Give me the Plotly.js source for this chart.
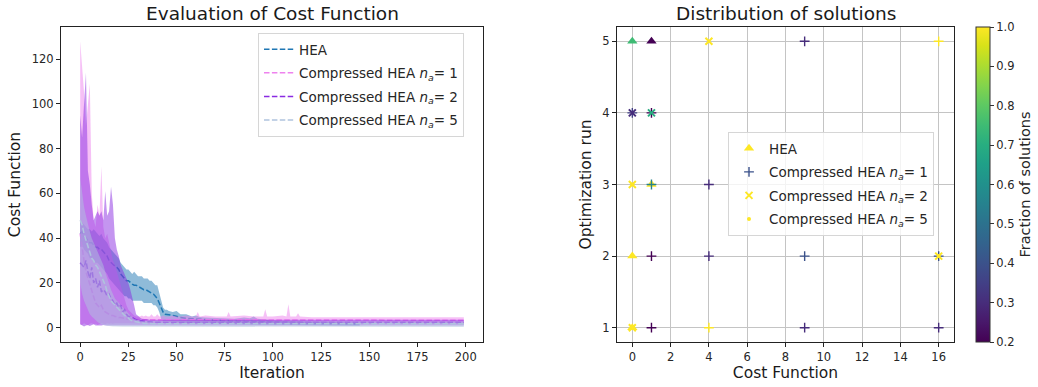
<!DOCTYPE html>
<html>
<head>
<meta charset="utf-8">
<script src="https://cdn.plot.ly/plotly-3.0.1.min.js"></script>
<style>html,body{margin:0;padding:0;background:#fff;}#chart{width:1038px;height:387px;}</style>
</head>
<body>
<div id="chart"></div>
<script>
// ---------- Left panel data (Evaluation of Cost Function) ----------
const seriesNames = ['HEA', 'Compressed HEA <i>n<sub>a</sub></i>= 1', 'Compressed HEA <i>n<sub>a</sub></i>= 2', 'Compressed HEA <i>n<sub>a</sub></i>= 5'];

const iterHEA = [0,1,2,3,4,5,6,7,8,9,10,11,12,13,14,15,16,17,18,19,20,21,22,23,24,25,26,27,28,29,30,31,32,33,34,35,36,37,38,39,40,41,42,43,44,45,
  46,48,50,52,55,58,60,62,65,70,75,80,85,88,90,92,95,100,105,110,115,120,125,130,135,140,145];
const meanHEA = [42,43,41,40,39,38,38,37,36,36,35,35,34,33,32,30,29,28,27.5,27,26,24,23,22,21,21,20,19.5,19,19,18.5,18,17.5,17,17,16.5,16,15.5,15,14,13,11,9,7,6,6,
  5.8,5.5,5,4.6,4.2,4,3.8,3.6,3.4,3.2,3,2.9,2.8,2.7,2.7,2.6,2.5,2.3,2.2,2.1,2,1.9,1.9,1.8,1.8,1.7,1.7];
const hiHEA = [48,47,46,45,44,44,43,44,43,42,41,42,40,39,38,36,35,34,33,32,31,29,28,27,26,26,25,24,25,24,23,23,23,22,22,22,21,21,20,19,19,16,12,9,8,8,
  7.5,7,7.5,6,6,5,5.5,4.8,4.5,4.3,4.2,4,4.5,4.2,5,4,3.8,3.2,3,3,2.8,2.7,2.6,2.5,2.4,2.3,2.2];
const loHEA = [36,37,35,34,33,31,31,30,29,29,28,27,26,25,24,22,21,20,19,18,17,16,15,14,14,13,13,12,12,12,12,12,12,11,11,11,11,11,10,10,9,7,4,3,3,3,
  2.8,2.6,2.4,2.2,2,2,1.9,1.8,1.8,1.7,1.6,1.6,1.5,1.5,1.5,1.4,1.4,1.3,1.3,1.2,1.2,1.2,1.1,1.1,1.1,1,1];

const iterC = [0,1,2,3,4,5,6,7,8,9,10,11,12,13,14,15,16,17,18,19,20,21,22,23,24,25,26,27,28,29,30,31,32,33,34,35,36,37,38,39,40,41,42,43,44,45,
  46,48,50,52,55,58,60,61,62,65,70,75,76,77,78,85,90,95,96,97,100,105,107,108,109,112,113,114,120,130,140,150,160,170,180,190,199];

const mean1 = [42,35,30,25,22,20,16,13,11,10,9,10,8,7,6.5,6,5.5,5.5,5,5,4.5,4.5,4.2,4.2,4,4,4,3.9,3.8,3.8,3.7,3.6,3.6,3.5,3.5,3.5,3.5,3.4,3.4,3.4,3.4,3.4,3.3,3.3,3.3,3.3,
  3.3,3.3,3.3,3.3,3.3,3.3,3.3,3.4,3.3,3.3,3.3,3.3,3.3,3.4,3.3,3.3,3.3,3.3,3.4,3.3,3.3,3.3,3.3,3.5,3.3,3.3,3.4,3.3,3.3,3.3,3.3,3.3,3.3,3.3,3.3,3.3,3.3];
const hi1 = [128,118,105,90,100,109,60,48,45,55,50,72,45,40,42,38,35,30,28,25,22,18,15,12,10,8,7,6,5.5,5,5,5,5.5,5,5.5,5,5,6,5,5,6,5,5,5.5,5,5,
  5,5.5,5,5,5.5,5,5,7,5,5.5,5,5,5,7,5,5.5,5,5,8.2,5,5,5.5,5,10.5,5,5,6.4,5,4.7,4.7,4.7,4.7,4.7,4.7,4.7,4.7,4.7];
const lo1 = [1.5,1.2,2,1.5,1,1.8,2,1.5,1.8,1.2,1.5,2,1.8,1.5,2,1.8,2,1.8,2,2,2,2,2,2,2,2,2,2,2,2,2,2,2,2,2,2,2,2,2,2,2,2,2,2,2,2,
  2,2,2,2,2,2,2,2,2,2,2,2,2,2,2,2,2,2,2,2,2,2,2,2,2,2,2,2,2,2,2,2,2,2,2,2,2];

const mean2 = [29,28,27,30,25,22,27,20,22,18,21,16,17,16,14,15,13,12,10,11,9,10,7,8,6,5,5,4.5,4,3.5,3.5,3,3,2.8,2.8,2.6,2.6,2.5,2.5,2.5,2.4,2.4,2.4,2.3,2.3,2.3,
  2.3,2.3,2.3,2.3,2.3,2.3,2.3,2.3,2.3,2.3,2.3,2.3,2.3,2.3,2.3,2.3,2.3,2.3,2.3,2.3,2.3,2.3,2.3,2.3,2.3,2.3,2.3,2.3,2.3,2.3,2.3,2.3,2.3,2.3,2.3,2.3,2.3];
const hi2 = [95,85,100,114,70,64,55,48,50,52,50,52,48,61,50,52,63,55,40,35,32,28,26,24,22,20,17,14,10,6,5,4.5,4,4,3.8,3.8,3.6,3.6,3.5,3.5,3.5,3.5,3.5,3.5,3.5,3.5,
  3.5,3.5,3.5,3.5,3.5,3.5,3.5,3.5,3.5,3.5,3.5,3.5,3.5,3.5,3.5,3.5,3.5,3.5,3.5,3.5,3.5,3.5,3.5,3.5,3.5,3.5,3.5,3.5,3.5,3.5,3.5,3.5,3.5,3.5,3.5,3.5,3.5];
const lo2 = [1.5,1,0.5,1,1.2,0.8,1,1.5,1,1,0.8,1,1.2,1,1,1,1,1,1,1,1,1,1,1,1,1,1,1,1,1,1,1,1,1,1,1,1,1,1,1,1,1,1,1,1,1,
  1,1,1,1,1,1,1,1,1,1,1,1,1,1,1,1,1,1,1,1,1,1,1,1,1,1,1,1,1,1,1,1,1,1,1,1,1];

const mean5 = [48,46,42,39,36,33,31,30,28,27,25,23,21,19,16,14,12,11,10,9,8,7,6,5.5,5,4,3.5,3,2.8,2.5,2.2,2,1.9,1.9,1.9,1.8,1.8,1.8,1.8,1.8,1.8,1.8,1.8,1.8,1.8,1.8,
  1.8,1.8,1.8,1.8,1.8,1.8,1.8,1.8,1.8,1.8,1.8,1.8,1.8,1.8,1.8,1.8,1.8,1.8,1.8,1.8,1.8,1.8,1.8,1.8,1.8,1.8,1.8,1.8,1.8,1.8,1.8,1.8,1.8,1.8,1.8,1.8,1.8];
const hi5 = [67,60,54,50,46,43,40,38,36,34,32,30,28,25,22,20,17,15,13,12,11,10,9,8,7,6,5,4.5,4,3.6,3.3,3.1,3,3,2.9,2.8,2.8,2.8,2.8,2.8,2.8,2.8,2.8,2.8,2.8,2.8,
  2.8,2.8,2.8,2.8,2.8,2.8,2.8,2.8,2.8,2.8,2.8,2.8,2.8,2.8,2.8,2.8,2.8,2.8,2.8,2.8,2.8,2.8,2.8,2.8,2.8,2.8,2.8,2.8,2.8,2.8,2.8,2.8,2.8,2.8,2.8,2.8,2.8];
const lo5 = [20,15,12,10,8,6,5,4,3,2.5,2,1.5,1.2,1,0.8,0.6,0.5,0.5,0.5,0.4,0.4,0.4,0.4,0.4,0.4,0.4,0.4,0.4,0.4,0.4,0.4,0.4,0.4,0.4,0.4,0.4,0.4,0.4,0.4,0.4,0.4,0.4,0.4,0.4,0.4,0.4,
  0.3,0.3,0.3,0.3,0.3,0.3,0.3,0.3,0.3,0.3,0.3,0.3,0.3,0.3,0.3,0.3,0.3,0.3,0.3,0.3,0.3,0.3,0.3,0.3,0.3,0.3,0.3,0.3,0.3,0.3,0.3,0.3,0.3,0.3,0.3,0.3,0.3];

const lineColors = ['#1f77b4', '#ee82ee', '#8a2be2', '#b0c4de'];
const fillColors = ['rgba(31,119,180,0.5)', 'rgba(238,130,238,0.5)', 'rgba(138,43,226,0.5)', 'rgba(176,196,222,0.5)'];

// ---------- Right panel data (Distribution of solutions) ----------
// HEA (triangles)
const heaCost = [0, 0, 1, 1, 0];
const heaRun  = [2, 5, 5, 3, 1];
const heaFrac = [1.0, 0.75, 0.2, 1.0, 1.0];
// Compressed HEA n_a = 1 (plus)
const c1Cost = [9, 9, 16, 0, 1, 1, 4, 1, 4, 16, 1, 4, 9, 16];
const c1Run  = [2, 5, 5, 4, 4, 3, 3, 2, 2, 2, 1, 1, 1, 1];
const c1Frac = [0.4, 0.3, 1.0, 0.35, 0.2, 0.55, 0.3, 0.2, 0.3, 0.4, 0.2, 1.0, 0.3, 0.3];
// Compressed HEA n_a = 2 (x)
const c2Cost = [4, 0, 1, 0, 16, 0];
const c2Run  = [5, 4, 4, 3, 2, 1];
const c2Frac = [1.0, 0.3, 0.7, 1.0, 1.0, 1.0];
// Compressed HEA n_a = 5 (dots)
const c5Cost = [0, 0, 16];
const c5Run  = [1, 3, 2];
const c5Frac = [1.0, 1.0, 1.0];

const FONT = 'DejaVu Sans, Liberation Sans, sans-serif';
const W = 1038, H = 387;

const traces = [];
const bandSets = [
  [iterHEA, meanHEA, loHEA, hiHEA],
  [iterC, mean1, lo1, hi1],
  [iterC, mean2, lo2, hi2],
  [iterC, mean5, lo5, hi5]
];
bandSets.forEach((s, k) => {
  const g = 'g' + k;
  traces.push({x: s[0], y: s[1], type: 'scatter', mode: 'lines', name: seriesNames[k], legendgroup: g,
    line: {color: lineColors[k], width: 1.5, dash: '5.5px,2.4px'}, xaxis: 'x', yaxis: 'y', legend: 'legend'});
  traces.push({x: s[0], y: s[2], type: 'scatter', mode: 'lines', line: {width: 0, color: lineColors[k]},
    showlegend: false, legendgroup: g, hoverinfo: 'skip', xaxis: 'x', yaxis: 'y'});
  traces.push({x: s[0], y: s[3], type: 'scatter', mode: 'lines', line: {width: 0, color: lineColors[k]},
    fill: 'tonexty', fillcolor: fillColors[k], showlegend: false, legendgroup: g, hoverinfo: 'skip', xaxis: 'x', yaxis: 'y'});
});

const cs = 'Viridis';
traces.push({x: heaCost, y: heaRun, type: 'scatter', mode: 'markers', name: 'HEA', legend: 'legend2', legendgroup: 'h0',
  xaxis: 'x2', yaxis: 'y2',
  marker: {symbol: 'triangle-up', size: 9, color: heaFrac, colorscale: cs, cmin: 0.2, cmax: 1.0, line: {width: 0},
    showscale: true,
    colorbar: {x: 976 / W, xanchor: 'left', xpad: 0, y: 360 / H, yanchor: 'top', ypad: 0, len: 315 / H, lenmode: 'fraction',
      thickness: 14, outlinewidth: 1, outlinecolor: '#333', ticks: 'outside', ticklen: 4, tickcolor: '#333',
      tick0: 0.2, dtick: 0.1, tickformat: '.1f', tickfont: {family: FONT, size: 11.5, color: '#262626'},
      title: {text: 'Fraction of solutions', side: 'right', font: {family: FONT, size: 14.5, color: '#262626'}}}}});
traces.push({x: c1Cost, y: c1Run, type: 'scatter', mode: 'markers', name: seriesNames[1], legend: 'legend2', legendgroup: 'h1',
  xaxis: 'x2', yaxis: 'y2',
  marker: {symbol: 'cross-thin-open', size: 7, color: c1Frac, colorscale: cs, cmin: 0.2, cmax: 1.0, line: {width: 1.4}}});
traces.push({x: c2Cost, y: c2Run, type: 'scatter', mode: 'markers', name: seriesNames[2], legend: 'legend2', legendgroup: 'h2',
  xaxis: 'x2', yaxis: 'y2',
  marker: {symbol: 'x-thin-open', size: 7, color: c2Frac, colorscale: cs, cmin: 0.2, cmax: 1.0, line: {width: 2}}});
traces.push({x: c5Cost, y: c5Run, type: 'scatter', mode: 'markers', name: seriesNames[3], legend: 'legend2', legendgroup: 'h3',
  xaxis: 'x2', yaxis: 'y2',
  marker: {symbol: 'circle', size: 4, color: c5Frac, colorscale: cs, cmin: 0.2, cmax: 1.0, line: {width: 0}}});

const axBase = {
  showline: true, mirror: true, linecolor: '#222', linewidth: 1, ticks: 'outside', ticklen: 4, tickcolor: '#222',
  zeroline: false, tickfont: {family: FONT, size: 11.5, color: '#262626'}, automargin: false
};
const titleFont = {family: FONT, size: 15.5, color: '#1a1a1a'};
const legendFont = {family: FONT, size: 13.5, color: '#262626'};

const layout = {
  width: W, height: H,
  margin: {l: 0, r: 0, t: 0, b: 0},
  paper_bgcolor: '#ffffff', plot_bgcolor: '#ffffff',
  font: {family: FONT, size: 12, color: '#262626'},
  showlegend: true,
  xaxis: Object.assign({}, axBase, {domain: [61 / W, 483 / W], anchor: 'y', range: [-9.95, 208.95], tick0: 0, dtick: 25, showgrid: false,
    title: {text: 'Iteration', font: titleFont, standoff: 3}}),
  yaxis: Object.assign({}, axBase, {domain: [45 / H, 360 / H], anchor: 'x', range: [-6.4, 134.4], tick0: 0, dtick: 20, showgrid: false,
    title: {text: 'Cost Function', font: titleFont, standoff: 7}}),
  xaxis2: Object.assign({}, axBase, {domain: [617 / W, 954 / W], anchor: 'y2', range: [-0.8, 16.8], tick0: 0, dtick: 2,
    showgrid: true, gridcolor: '#c4c4c4', gridwidth: 1,
    title: {text: 'Cost Function', font: titleFont, standoff: 3}}),
  yaxis2: Object.assign({}, axBase, {domain: [45 / H, 360 / H], anchor: 'x2', range: [0.8, 5.2], tick0: 1, dtick: 1,
    showgrid: true, gridcolor: '#c4c4c4', gridwidth: 1,
    title: {text: 'Optimization run', font: titleFont, standoff: 6}}),
  legend: {x: 258 / W, xanchor: 'left', y: 1 - 33 / H, yanchor: 'top', bgcolor: 'rgba(255,255,255,0.8)',
    bordercolor: '#d6d6d6', borderwidth: 1, font: legendFont, tracegroupgap: 3, traceorder: 'grouped'},
  legend2: {x: 728 / W, xanchor: 'left', y: 1 - 132 / H, yanchor: 'top', bgcolor: 'rgba(255,255,255,0.8)',
    bordercolor: '#d6d6d6', borderwidth: 1, font: legendFont, tracegroupgap: 3, traceorder: 'grouped'},
  annotations: [
    {text: 'Evaluation of Cost Function', xref: 'paper', yref: 'paper', x: 272 / W, y: 1 - 13 / H, xanchor: 'center', yanchor: 'middle',
      showarrow: false, font: {family: FONT, size: 18.5, color: '#1a1a1a'}},
    {text: 'Distribution of solutions', xref: 'paper', yref: 'paper', x: 785.5 / W, y: 1 - 13 / H, xanchor: 'center', yanchor: 'middle',
      showarrow: false, font: {family: FONT, size: 18.5, color: '#1a1a1a'}}
  ]
};

Plotly.newPlot('chart', traces, layout, {displayModeBar: false, staticPlot: true});
</script>
</body>
</html>
